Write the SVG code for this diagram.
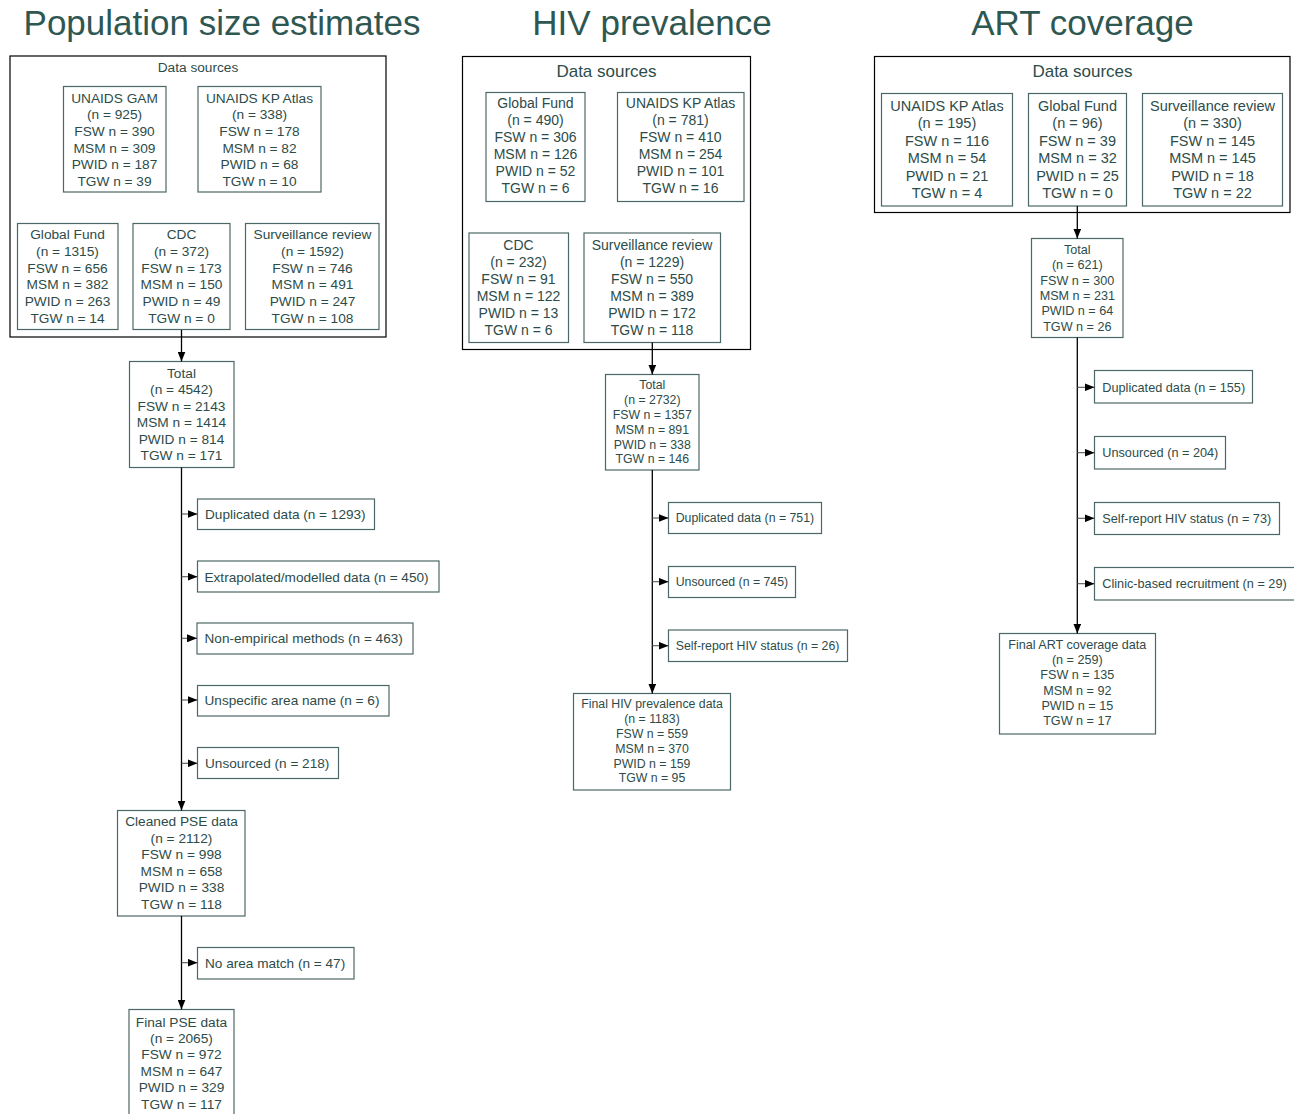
<svg xmlns="http://www.w3.org/2000/svg" width="1294" height="1114" viewBox="0 0 1294 1114">
<style>
text{font-family:"Liberation Sans",Arial,sans-serif;fill:#2d4c49}
.title{font-size:35px;fill:#2f5752;text-anchor:middle}
.ds1{font-size:13.7px;text-anchor:middle}
.ds2{font-size:17px;text-anchor:middle}
.t1{font-size:13.7px;text-anchor:middle}
.t2{font-size:14px;text-anchor:middle}
.t3{font-size:14.5px;text-anchor:middle}
.s2{font-size:12.3px;text-anchor:middle}
.s3{font-size:12.6px;text-anchor:middle}
.e1{font-size:13.6px}
.e2{font-size:12.3px}
.e3{font-size:12.7px}
.outer{fill:none;stroke:#000;stroke-width:1.2}
.box{fill:#fff;stroke:#4b6866;stroke-width:1.2}
.main{stroke:#000;stroke-width:1.3;fill:none}
.branch{stroke:#555;stroke-width:1.1;fill:none}
</style>
<defs>
<marker id="ah" markerUnits="userSpaceOnUse" markerWidth="10" markerHeight="8" refX="10" refY="4" orient="auto">
<path d="M0,0 L10,4 L0,8 z" fill="#000"/>
</marker>
</defs>
<rect width="1294" height="1114" fill="#fff"/>

<text class="title" x="222" y="35">Population size estimates</text>
<text class="title" x="652" y="35">HIV prevalence</text>
<text class="title" x="1082.5" y="35">ART coverage</text>

<!-- Panel 1 -->
<g id="p1-sources">
<rect class="outer" x="10" y="56" width="376" height="281"/>
<text class="ds1" x="198" y="71.6">Data sources</text>
</g>
<g id="p1-gam">
<rect class="box" x="63.5" y="86.5" width="102.5" height="105.5"/>
<text class="t1" x="114.5" y="102.6">UNAIDS GAM</text>
<text class="t1" x="114.5" y="119.2">(n = 925)</text>
<text class="t1" x="114.5" y="135.9">FSW n = 390</text>
<text class="t1" x="114.5" y="152.6">MSM n = 309</text>
<text class="t1" x="114.5" y="169.2">PWID n = 187</text>
<text class="t1" x="114.5" y="185.9">TGW n = 39</text>
</g>
<g id="p1-kp">
<rect class="box" x="198" y="86.5" width="123" height="105.5"/>
<text class="t1" x="259.5" y="102.6">UNAIDS KP Atlas</text>
<text class="t1" x="259.5" y="119.2">(n = 338)</text>
<text class="t1" x="259.5" y="135.9">FSW n = 178</text>
<text class="t1" x="259.5" y="152.6">MSM n = 82</text>
<text class="t1" x="259.5" y="169.2">PWID n = 68</text>
<text class="t1" x="259.5" y="185.9">TGW n = 10</text>
</g>
<g id="p1-gf">
<rect class="box" x="17.5" y="223.5" width="100.5" height="106"/>
<text class="t1" x="67.5" y="239.2">Global Fund</text>
<text class="t1" x="67.5" y="255.9">(n = 1315)</text>
<text class="t1" x="67.5" y="272.6">FSW n = 656</text>
<text class="t1" x="67.5" y="289.2">MSM n = 382</text>
<text class="t1" x="67.5" y="305.9">PWID n = 263</text>
<text class="t1" x="67.5" y="322.6">TGW n = 14</text>
</g>
<g id="p1-cdc">
<rect class="box" x="133" y="223.5" width="97" height="106"/>
<text class="t1" x="181.5" y="239.2">CDC</text>
<text class="t1" x="181.5" y="255.9">(n = 372)</text>
<text class="t1" x="181.5" y="272.6">FSW n = 173</text>
<text class="t1" x="181.5" y="289.2">MSM n = 150</text>
<text class="t1" x="181.5" y="305.9">PWID n = 49</text>
<text class="t1" x="181.5" y="322.6">TGW n = 0</text>
</g>
<g id="p1-surv">
<rect class="box" x="245.5" y="223.5" width="133.5" height="106"/>
<text class="t1" x="312.5" y="239.2">Surveillance review</text>
<text class="t1" x="312.5" y="255.9">(n = 1592)</text>
<text class="t1" x="312.5" y="272.6">FSW n = 746</text>
<text class="t1" x="312.5" y="289.2">MSM n = 491</text>
<text class="t1" x="312.5" y="305.9">PWID n = 247</text>
<text class="t1" x="312.5" y="322.6">TGW n = 108</text>
</g>
<g id="p1-total">
<rect class="box" x="129.5" y="361.5" width="104.5" height="106"/>
<text class="t1" x="181.5" y="377.6">Total</text>
<text class="t1" x="181.5" y="394.1">(n = 4542)</text>
<text class="t1" x="181.5" y="410.6">FSW n = 2143</text>
<text class="t1" x="181.5" y="427.1">MSM n = 1414</text>
<text class="t1" x="181.5" y="443.6">PWID n = 814</text>
<text class="t1" x="181.5" y="460.1">TGW n = 171</text>
</g>
<g id="p1-ex1"><rect class="box" x="197.5" y="499" width="177" height="30.5"/><text class="e1" x="205" y="518.9">Duplicated data (n = 1293)</text></g>
<g id="p1-ex2"><rect class="box" x="197.5" y="561" width="241.5" height="31"/><text class="e1" x="204.5" y="581.6">Extrapolated/modelled data (n = 450)</text></g>
<g id="p1-ex3"><rect class="box" x="197" y="623" width="216" height="31"/><text class="e1" x="204.5" y="643.2">Non-empirical methods (n = 463)</text></g>
<g id="p1-ex4"><rect class="box" x="197.5" y="685.5" width="191.5" height="30.5"/><text class="e1" x="204.5" y="704.9">Unspecific area name (n = 6)</text></g>
<g id="p1-ex5"><rect class="box" x="197.5" y="747.5" width="141" height="31"/><text class="e1" x="205" y="768.2">Unsourced (n = 218)</text></g>
<g id="p1-cleaned">
<rect class="box" x="117.5" y="810.5" width="127.5" height="105.5"/>
<text class="t1" x="181.5" y="826">Cleaned PSE data</text>
<text class="t1" x="181.5" y="842.6">(n = 2112)</text>
<text class="t1" x="181.5" y="859.2">FSW n = 998</text>
<text class="t1" x="181.5" y="875.8">MSM n = 658</text>
<text class="t1" x="181.5" y="892.4">PWID n = 338</text>
<text class="t1" x="181.5" y="909">TGW n = 118</text>
</g>
<g id="p1-ex6"><rect class="box" x="197.5" y="947.5" width="156.5" height="31.5"/><text class="e1" x="205" y="967.6">No area match (n = 47)</text></g>
<g id="p1-final">
<rect class="box" x="129" y="1009.5" width="105" height="110"/>
<text class="t1" x="181.5" y="1026.6">Final PSE data</text>
<text class="t1" x="181.5" y="1043">(n = 2065)</text>
<text class="t1" x="181.5" y="1059.4">FSW n = 972</text>
<text class="t1" x="181.5" y="1075.8">MSM n = 647</text>
<text class="t1" x="181.5" y="1092.2">PWID n = 329</text>
<text class="t1" x="181.5" y="1108.6">TGW n = 117</text>
</g>

<!-- Panel 2 -->
<g id="p2-sources">
<rect class="outer" x="462.5" y="56.5" width="288" height="293"/>
<text class="ds2" x="606.5" y="76.8">Data sources</text>
</g>
<g id="p2-gf">
<rect class="box" x="486" y="92.5" width="99" height="109"/>
<text class="t2" x="535.5" y="108.3">Global Fund</text>
<text class="t2" x="535.5" y="125.3">(n = 490)</text>
<text class="t2" x="535.5" y="142.3">FSW n = 306</text>
<text class="t2" x="535.5" y="159.3">MSM n = 126</text>
<text class="t2" x="535.5" y="176.3">PWID n = 52</text>
<text class="t2" x="535.5" y="193.3">TGW n = 6</text>
</g>
<g id="p2-kp">
<rect class="box" x="617.5" y="92.5" width="126.5" height="109"/>
<text class="t2" x="680.5" y="108.3">UNAIDS KP Atlas</text>
<text class="t2" x="680.5" y="125.3">(n = 781)</text>
<text class="t2" x="680.5" y="142.3">FSW n = 410</text>
<text class="t2" x="680.5" y="159.3">MSM n = 254</text>
<text class="t2" x="680.5" y="176.3">PWID n = 101</text>
<text class="t2" x="680.5" y="193.3">TGW n = 16</text>
</g>
<g id="p2-cdc">
<rect class="box" x="469" y="233" width="99.5" height="109.5"/>
<text class="t2" x="518.5" y="250">CDC</text>
<text class="t2" x="518.5" y="266.9">(n = 232)</text>
<text class="t2" x="518.5" y="283.8">FSW n = 91</text>
<text class="t2" x="518.5" y="300.7">MSM n = 122</text>
<text class="t2" x="518.5" y="317.6">PWID n = 13</text>
<text class="t2" x="518.5" y="334.5">TGW n = 6</text>
</g>
<g id="p2-surv">
<rect class="box" x="584" y="233" width="136.5" height="109.5"/>
<text class="t2" x="652" y="250">Surveillance review</text>
<text class="t2" x="652" y="266.9">(n = 1229)</text>
<text class="t2" x="652" y="283.8">FSW n = 550</text>
<text class="t2" x="652" y="300.7">MSM n = 389</text>
<text class="t2" x="652" y="317.6">PWID n = 172</text>
<text class="t2" x="652" y="334.5">TGW n = 118</text>
</g>
<g id="p2-total">
<rect class="box" x="605.5" y="374.5" width="93.5" height="95.5"/>
<text class="s2" x="652.3" y="389.4">Total</text>
<text class="s2" x="652.3" y="404.2">(n = 2732)</text>
<text class="s2" x="652.3" y="419">FSW n = 1357</text>
<text class="s2" x="652.3" y="433.8">MSM n = 891</text>
<text class="s2" x="652.3" y="448.6">PWID n = 338</text>
<text class="s2" x="652.3" y="463.4">TGW n = 146</text>
</g>
<g id="p2-ex1"><rect class="box" x="668.5" y="502.5" width="153" height="31"/><text class="e2" x="675.7" y="522.4">Duplicated data (n = 751)</text></g>
<g id="p2-ex2"><rect class="box" x="668.5" y="566.5" width="127" height="31"/><text class="e2" x="675.7" y="586.1">Unsourced (n = 745)</text></g>
<g id="p2-ex3"><rect class="box" x="668.5" y="630" width="179" height="31.5"/><text class="e2" x="675.7" y="650.1">Self-report HIV status (n = 26)</text></g>
<g id="p2-final">
<rect class="box" x="573.5" y="693.5" width="157" height="96.5"/>
<text class="s2" x="652" y="708.4">Final HIV prevalence data</text>
<text class="s2" x="652" y="723.2">(n = 1183)</text>
<text class="s2" x="652" y="738">FSW n = 559</text>
<text class="s2" x="652" y="752.8">MSM n = 370</text>
<text class="s2" x="652" y="767.6">PWID n = 159</text>
<text class="s2" x="652" y="782.4">TGW n = 95</text>
</g>

<!-- Panel 3 -->
<g id="p3-sources">
<rect class="outer" x="874.5" y="56.5" width="415.5" height="156"/>
<text class="ds2" x="1082.5" y="77">Data sources</text>
</g>
<g id="p3-kp">
<rect class="box" x="881.5" y="93.5" width="131" height="112.5"/>
<text class="t3" x="947" y="110.5">UNAIDS KP Atlas</text>
<text class="t3" x="947" y="128">(n = 195)</text>
<text class="t3" x="947" y="145.5">FSW n = 116</text>
<text class="t3" x="947" y="163">MSM n = 54</text>
<text class="t3" x="947" y="180.5">PWID n = 21</text>
<text class="t3" x="947" y="198">TGW n = 4</text>
</g>
<g id="p3-gf">
<rect class="box" x="1028.5" y="93.5" width="98" height="112.5"/>
<text class="t3" x="1077.5" y="110.5">Global Fund</text>
<text class="t3" x="1077.5" y="128">(n = 96)</text>
<text class="t3" x="1077.5" y="145.5">FSW n = 39</text>
<text class="t3" x="1077.5" y="163">MSM n = 32</text>
<text class="t3" x="1077.5" y="180.5">PWID n = 25</text>
<text class="t3" x="1077.5" y="198">TGW n = 0</text>
</g>
<g id="p3-surv">
<rect class="box" x="1142.5" y="93.5" width="140" height="112.5"/>
<text class="t3" x="1212.5" y="110.5">Surveillance review</text>
<text class="t3" x="1212.5" y="128">(n = 330)</text>
<text class="t3" x="1212.5" y="145.5">FSW n = 145</text>
<text class="t3" x="1212.5" y="163">MSM n = 145</text>
<text class="t3" x="1212.5" y="180.5">PWID n = 18</text>
<text class="t3" x="1212.5" y="198">TGW n = 22</text>
</g>
<g id="p3-total">
<rect class="box" x="1031.5" y="238.5" width="91.5" height="99"/>
<text class="s3" x="1077.3" y="253.8">Total</text>
<text class="s3" x="1077.3" y="269.2">(n = 621)</text>
<text class="s3" x="1077.3" y="284.5">FSW n = 300</text>
<text class="s3" x="1077.3" y="299.9">MSM n = 231</text>
<text class="s3" x="1077.3" y="315.2">PWID n = 64</text>
<text class="s3" x="1077.3" y="330.6">TGW n = 26</text>
</g>
<g id="p3-ex1"><rect class="box" x="1094.5" y="370.5" width="158" height="32.5"/><text class="e3" x="1102.3" y="391.8">Duplicated data (n = 155)</text></g>
<g id="p3-ex2"><rect class="box" x="1094.5" y="436.5" width="131" height="32.5"/><text class="e3" x="1102.3" y="457.2">Unsourced (n = 204)</text></g>
<g id="p3-ex3"><rect class="box" x="1094.5" y="502.5" width="185" height="32"/><text class="e3" x="1102.3" y="522.8">Self-report HIV status (n = 73)</text></g>
<g id="p3-ex4"><rect class="box" x="1094.5" y="567.5" width="205" height="32.5"/><text class="e3" x="1102.3" y="588.2">Clinic-based recruitment (n = 29)</text></g>
<g id="p3-final">
<rect class="box" x="999.5" y="633.5" width="156" height="100.5"/>
<text class="s3" x="1077.3" y="648.8">Final ART coverage data</text>
<text class="s3" x="1077.3" y="664.1">(n = 259)</text>
<text class="s3" x="1077.3" y="679.4">FSW n = 135</text>
<text class="s3" x="1077.3" y="694.7">MSM n = 92</text>
<text class="s3" x="1077.3" y="710">PWID n = 15</text>
<text class="s3" x="1077.3" y="725.3">TGW n = 17</text>
</g>

<g id="connectors">
<!-- Panel 1 -->
<line class="main" x1="181.5" y1="330" x2="181.5" y2="361.5" marker-end="url(#ah)"/>
<line class="main" x1="181.5" y1="467.5" x2="181.5" y2="810.5" marker-end="url(#ah)"/>
<line class="main" x1="181.5" y1="916" x2="181.5" y2="1009.5" marker-end="url(#ah)"/>
<line class="branch" x1="181.5" y1="514" x2="197.5" y2="514" marker-end="url(#ah)"/>
<line class="branch" x1="181.5" y1="576.7" x2="197.5" y2="576.7" marker-end="url(#ah)"/>
<line class="branch" x1="181.5" y1="638.3" x2="197" y2="638.3" marker-end="url(#ah)"/>
<line class="branch" x1="181.5" y1="700" x2="197.5" y2="700" marker-end="url(#ah)"/>
<line class="branch" x1="181.5" y1="763.3" x2="197.5" y2="763.3" marker-end="url(#ah)"/>
<line class="branch" x1="181.5" y1="962.7" x2="197.5" y2="962.7" marker-end="url(#ah)"/>
<!-- Panel 2 -->
<line class="main" x1="652.3" y1="342.5" x2="652.3" y2="374.5" marker-end="url(#ah)"/>
<line class="main" x1="652.3" y1="470" x2="652.3" y2="693.5" marker-end="url(#ah)"/>
<line class="branch" x1="652.3" y1="518" x2="668.5" y2="518" marker-end="url(#ah)"/>
<line class="branch" x1="652.3" y1="581.7" x2="668.5" y2="581.7" marker-end="url(#ah)"/>
<line class="branch" x1="652.3" y1="645.7" x2="668.5" y2="645.7" marker-end="url(#ah)"/>
<!-- Panel 3 -->
<line class="main" x1="1077.3" y1="206" x2="1077.3" y2="238.5" marker-end="url(#ah)"/>
<line class="main" x1="1077.3" y1="337.5" x2="1077.3" y2="633.5" marker-end="url(#ah)"/>
<line class="branch" x1="1077.3" y1="387.3" x2="1094.5" y2="387.3" marker-end="url(#ah)"/>
<line class="branch" x1="1077.3" y1="452.7" x2="1094.5" y2="452.7" marker-end="url(#ah)"/>
<line class="branch" x1="1077.3" y1="518.3" x2="1094.5" y2="518.3" marker-end="url(#ah)"/>
<line class="branch" x1="1077.3" y1="583.7" x2="1094.5" y2="583.7" marker-end="url(#ah)"/>
</g>
</svg>
